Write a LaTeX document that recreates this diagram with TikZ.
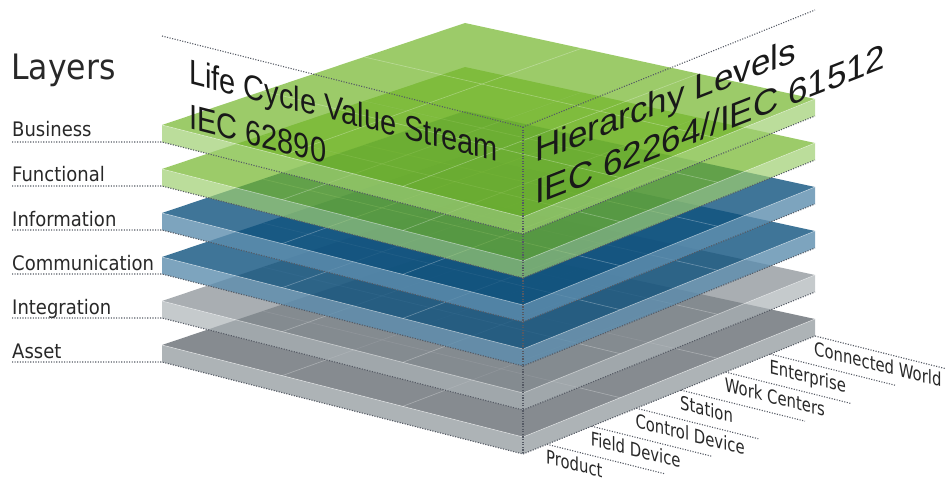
\documentclass[tikz,border=0pt]{standalone}
\usepackage{fontspec}
\setmainfont{Liberation Sans}
\newfontfamily\labfont[FakeStretch=0.9]{DejaVu Sans}
\usetikzlibrary{calc}
\definecolor{gtop}{RGB}{114,181,42}
\definecolor{gfront}{RGB}{158,206,112}
\definecolor{btop}{RGB}{15,82,126}
\definecolor{bfront}{RGB}{92,141,174}
\definecolor{itop}{RGB}{132,139,145}
\definecolor{ifront}{RGB}{172,179,183}
\definecolor{atop}{RGB}{134,139,144}
\definecolor{afront}{RGB}{173,179,182}
\definecolor{dotc}{RGB}{85,90,100}
\definecolor{labc}{RGB}{40,40,40}
\tikzset{
  dotline/.style={draw=dotc, line width=1.1pt, dash pattern=on 1.1pt off 1.5pt},
  gridline/.style={draw=white, draw opacity=0.3, line width=0.6pt},
  edgeline/.style={draw=white, draw opacity=0.5, line width=0.6pt},
  lab/.style={font=\labfont\fontsize{20}{21}\selectfont, text=labc, inner sep=0pt, anchor=base west},
  hlab/.style={font=\labfont\fontsize{16.5}{17}\selectfont, text=labc, inner sep=0pt, anchor=base west, transform shape},
  bigl/.style={font=\fontsize{29}{38}\selectfont, text=black!90, inner sep=0pt, anchor=base west, transform shape, align=left},
  bigr/.style={font=\fontsize{35}{42}\selectfont, text=black!90, inner sep=0pt, anchor=base west, transform shape, align=left},
}
\newcommand\drawslab[5]{%
  \coordinate (#1L) at (162,-125-#2);
  \coordinate (#1F) at (523,-217-#2);
  \coordinate (#1R) at (815,-99-#2);
  \coordinate (#1B) at (465,-23-#2);
  \coordinate (#1Lb) at (162,-142-#2);
  \coordinate (#1Fb) at (523,-234-#2);
  \coordinate (#1Rb) at (815,-116-#2);
  \fill[#3, fill opacity=#5] (#1L) -- (#1F) -- (#1R) -- (#1B) -- cycle;
  \fill[#4, fill opacity=#5] (#1L) -- (#1F) -- (#1Fb) -- (#1Lb) -- cycle;
  \fill[#4, fill opacity=#5] (#1F) -- (#1R) -- (#1Rb) -- (#1Fb) -- cycle;
  \foreach \t in {0.333,0.667}{%
    \draw[gridline] ($(#1L)!\t!(#1F)$) -- ($(#1B)!\t!(#1R)$);
    \draw[gridline] ($(#1L)!\t!(#1B)$) -- ($(#1F)!\t!(#1R)$);
  }
  \draw[edgeline] (#1L) -- (#1F) -- (#1R);
}
\begin{document}
\begin{tikzpicture}[x=1pt,y=1pt]
\useasboundingbox (0,0) rectangle (947,-481);

\drawslab{asset}{220}{atop}{afront}{1}
\drawslab{integ}{176}{itop}{ifront}{0.7}
\drawslab{comm}{132}{btop}{bfront}{0.8}
\drawslab{info}{88}{btop}{bfront}{0.8}
\drawslab{func}{44}{gtop}{gfront}{0.7}
\drawslab{busi}{0}{gtop}{gfront}{0.7}

% layer labels
\node[lab, font=\labfont\fontsize{35}{36}\selectfont] (ttl) at (11,-80) {Layers};
\node[lab] (lbusi) at (12,-137) {Business};
\node[lab] (lfunc) at (12,-182) {Functional};
\node[lab] (linfo) at (12,-226) {Information};
\node[lab] (lcomm) at (12,-270) {Communication};
\node[lab] (linteg) at (12,-314) {Integration};
\node[lab] (lasset) at (12,-358) {Asset};
\foreach \n in {busi,func,info,comm,integ,asset}{%
  \draw[dotline] (12,0 |- \n Lb) -- (\n Lb) -- (\n Fb) -- (\n Rb);
}

% hierarchy levels
\foreach \t/\len/\txt/\nm in {0.082/118/Product/p, 0.235/120/Field Device/fd, 0.388/122/Control Device/cd, 0.541/124/Station/st, 0.694/126/Work Centers/wc, 0.847/126/Enterprise/en, 1.0/130/Connected World/cw}{%
  \coordinate (hs\nm) at ($(assetFb)!\t!(assetRb)$);
  \coordinate (he\nm) at ($(hs\nm)+(\len,-0.25*\len)$);
  \draw[dotline] (hs\nm) -- (he\nm);
  \begin{scope}[shift={(hs\nm)}, cm={1,-0.25,0,1.15,(0,0)}]
    \node[hlab] (h\nm) at (-1,-17) {\txt};
  \end{scope}
}

% cube outline
\coordinate (cubeL) at (162,-36);
\coordinate (cubeF) at (523,-127);
\coordinate (cubeR) at (815,-10);
\draw[dotline] (cubeL) -- (cubeF) -- (cubeR);
\draw[dotline] (cubeF) -- (assetFb);

% axis titles (anchor = baseline of the last line)
\begin{scope}[cm={1,-0.255,0,1.2,(188,-83)}]
  \node[bigl] (lc) at (1,-38) {Life Cycle Value Stream\\IEC 62890};
\end{scope}
\begin{scope}[cm={1,0.39,0,1,(535,-163)}]
  \node[bigr] (hl) at (0,-42) {Hierarchy Levels\\IEC 62264//IEC 61512};
\end{scope}
\end{tikzpicture}
\end{document}
